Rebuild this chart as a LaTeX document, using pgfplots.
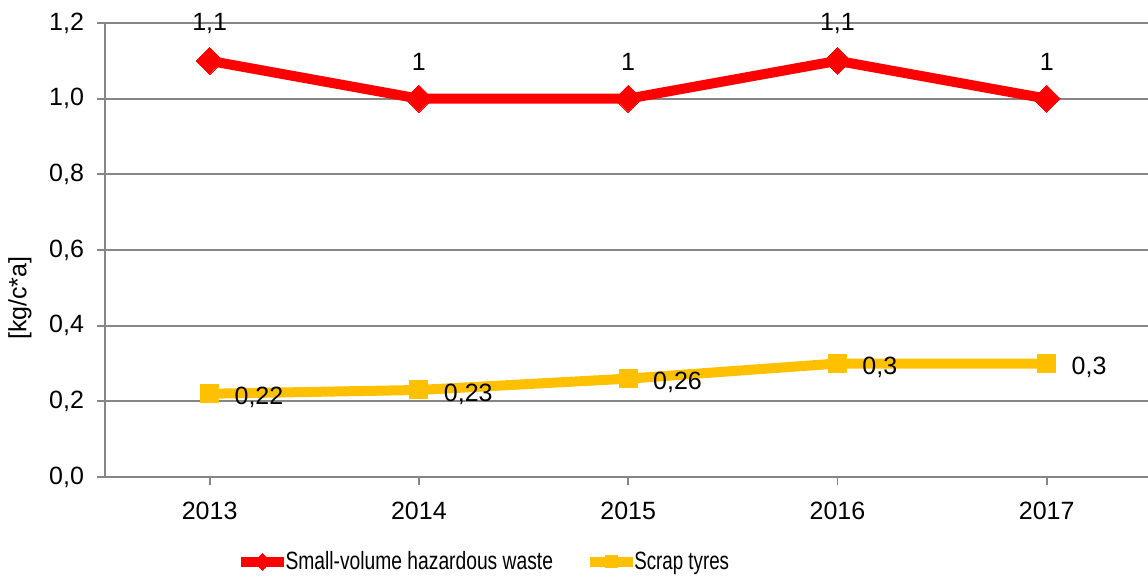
\documentclass[border=0pt]{standalone}
\usepackage{pgfplots}
\pgfplotsset{compat=1.18}
\usepackage{fontspec}
\setmainfont{Liberation Sans}
\definecolor{cred}{RGB}{255,0,0}
\definecolor{cyel}{RGB}{255,192,0}
\definecolor{cgrid}{RGB}{134,134,134}
\newcommand{\fs}{\fontsize{12.5}{15}\selectfont}
\begin{document}
\begin{tikzpicture}
\path[use as bounding box] (-52.5pt,-51pt) rectangle (521.5pt,238.5pt);
\begin{axis}[
  width=521.5pt, height=227pt, scale only axis,
  xmin=-0.5, xmax=4.484, ymin=0, ymax=1.2,
  clip=false,
  axis x line*=bottom, axis y line*=left,
  axis line style={cgrid, line width=0.9pt},
  xtick={0,1,2,3,4},
  xticklabels={2013,2014,2015,2016,2017},
  ytick={0,0.2,0.4,0.6,0.8,1.0,1.2},
  yticklabel style={xshift=-3pt, /pgf/number format/.cd, fixed, fixed zerofill, precision=1, use comma},
  xticklabel style={yshift=-5pt},
  /pgf/number format/assume math mode=true,
  tick align=outside, major tick length=4pt,
  tick style={cgrid, line width=0.9pt},
  ymajorgrids, grid style={cgrid, line width=0.9pt},
  tick label style={font=\fs},
  ylabel={[kg/c*a]},
  ylabel style={font=\fs, at={(axis description cs:-0.0815,0.394)}, anchor=center, rotate=0},
  legend style={draw=none, font=\fs, at={(axis description cs:0.1252,-0.187)}, anchor=west, legend columns=2, /tikz/every even column/.append style={column sep=15pt}, inner sep=0pt, nodes={inner xsep=0.8pt}},
  legend image code/.code={\draw[mark repeat=2,mark phase=2,#1,mark size=3pt] plot coordinates {(0pt,0pt)(10.75pt,0pt)(21.5pt,0pt)};},
  nodes near coords={\pgfmathprintnumber[use comma]{\pgfplotspointmeta}},
  every node near coord/.append style={font=\fs, inner sep=0pt},
]
\addplot[color=cred, line width=5pt, mark=square*, mark size=4.8pt,
  mark options={solid, rotate=45, line width=0pt, fill=cred},
  every node near coord/.append style={anchor=center, yshift=18.5pt, color=black}]
  coordinates {(0,1.1) (1,1.0) (2,1.0) (3,1.1) (4,1.0)};
\addlegendentry{\hspace*{-2.5pt}\scalebox{0.77}[1]{Small-volume hazardous waste}}
\addplot[color=cyel, line width=5pt, mark=square*, mark size=4.5pt,
  mark options={solid, line width=0pt, fill=cyel},
  every node near coord/.append style={anchor=west, xshift=12.5pt, yshift=-2pt, color=black}]
  coordinates {(0,0.22) (1,0.23) (2,0.26) (3,0.3) (4,0.3)};
\addlegendentry{\hspace*{-2.5pt}\scalebox{0.75}[1]{Scrap tyres}}
\end{axis}
\end{tikzpicture}
\end{document}
